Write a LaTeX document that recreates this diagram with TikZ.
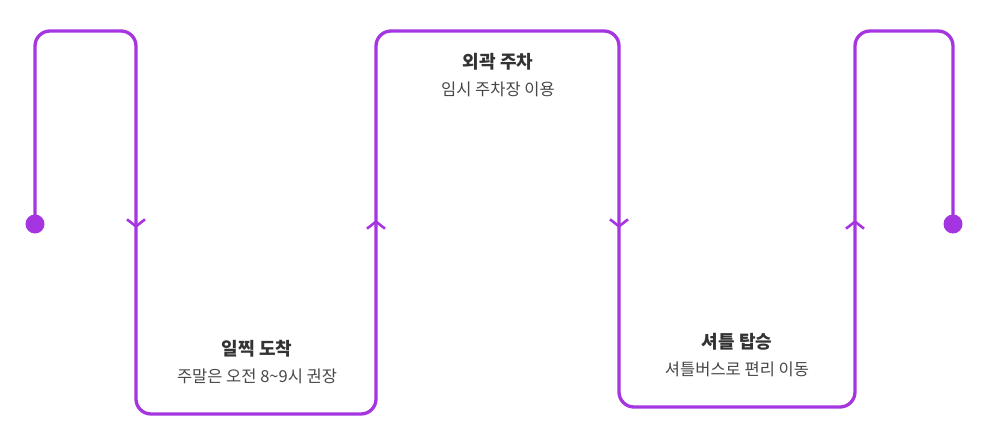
\documentclass[tikz,border=0pt]{standalone}
\usepackage{fontspec}
\newfontfamily\krfont{Noto Sans CJK KR}
\usetikzlibrary{arrows.meta, positioning}
\definecolor{flowpurple}{RGB}{164,53,224}
\definecolor{textgray}{RGB}{51,51,51}
\tikzset{
  flow/.style={draw=flowpurple, line width=3.3pt, rounded corners=15pt},
  flowtip/.style={draw=flowpurple, line width=2.6pt, -{Straight Barb[length=7pt, width=18pt]}},
  enddot/.style={circle, fill=flowpurple, inner sep=0pt, minimum size=19pt},
  steptitle/.style={font=\krfont\bfseries\fontsize{18}{20}\selectfont, text=textgray, inner sep=0pt},
  stepnote/.style={font=\krfont\fontsize{16.5}{20}\selectfont, text=textgray!90, inner sep=0pt}
}

\begin{document}
\begin{tikzpicture}[x=1pt, y=-1pt, node distance=11pt]
  \useasboundingbox (0,0) rectangle (986,434);

  \coordinate (p1) at (35,31);
  \coordinate (p2) at (136,31);
  \coordinate (p3) at (136,414);
  \coordinate (p4) at (376,414);
  \coordinate (p5) at (376,31);
  \coordinate (p6) at (619,31);
  \coordinate (p7) at (619,407);
  \coordinate (p8) at (855,407);
  \coordinate (p9) at (855,31);
  \coordinate (p10) at (953,31);
  \coordinate (m1) at (136,228);
  \coordinate (m2) at (376,220);
  \coordinate (m3) at (619,228);
  \coordinate (m4) at (855,220);

  \draw[flow] (35,224) -- (p1) -- (p2) -- (p3) -- (p4) -- (p5) -- (p6)
    -- (p7) -- (p8) -- (p9) -- (p10) -- (953,224);
  \node[enddot] (start) at (35,224) {};
  \node[enddot] (finish) at (953,224) {};

  \draw[flowtip] ([yshift=30pt]m1) -- (m1);
  \draw[flowtip] ([yshift=-30pt]m2) -- (m2);
  \draw[flowtip] ([yshift=30pt]m3) -- (m3);
  \draw[flowtip] ([yshift=-30pt]m4) -- (m4);

  \node[steptitle] (early) at (257,349) {일찍 도착};
  \node[stepnote, below=of early] (earlynote) {주말은 오전 8{\char`\~}9시 권장};
  \node[steptitle] (outer) at (498,62) {외곽 주차};
  \node[stepnote, below=of outer] (outernote) {임시 주차장 이용};
  \node[steptitle] (shuttle) at (737,342) {셔틀 탑승};
  \node[stepnote, below=of shuttle] (shuttlenote) {셔틀버스로 편리 이동};
\end{tikzpicture}
\end{document}
